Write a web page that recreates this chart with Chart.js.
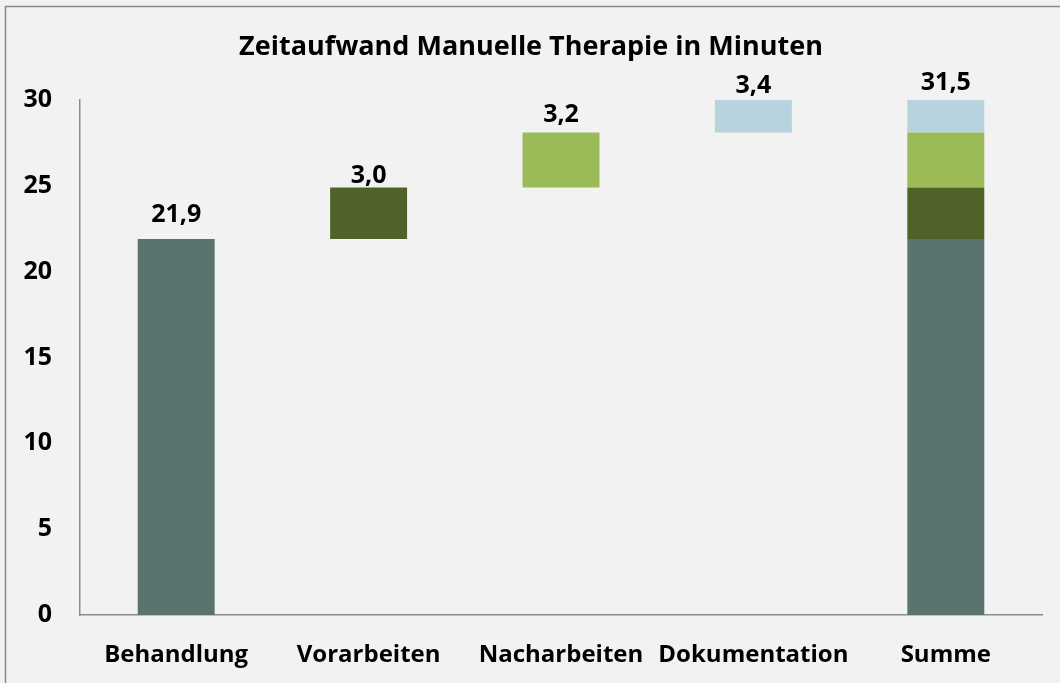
<!DOCTYPE html>
<html>
<head>
<meta charset="utf-8">
<script src="https://cdn.jsdelivr.net/npm/chart.js@4.4.1/dist/chart.umd.min.js"></script>
<style>
  body { margin: 0; background: #f2f2f2; }
  canvas { display: block; }
</style>
</head>
<body>
<canvas id="myChart" width="1060" height="683"></canvas>
<script>
var categories = ['Behandlung', 'Vorarbeiten', 'Nacharbeiten', 'Dokumentation', 'Summe'];
var parts = [21.9, 3.0, 3.2, 3.4];
var partColors = ['#5a736f', '#4f6228', '#9bbb59', '#b7d3de'];
var yTicks = [0, 5, 10, 15, 20, 25, 30];

var total = 0;
var starts = [];
for (var i = 0; i < parts.length; i++) {
	starts.push(total);
	total += parts[i];
}
total = Math.round(total * 10) / 10;
var labelValues = parts.concat([total]);
var sumIndex = categories.length - 1;

// waterfall: each part gets its own column plus a slice of the Summe column
var datasets = parts.map(function(p, i) {
	return {
		label: categories[i],
		data: categories.map(function(c, j) {
			return (j === i || j === sumIndex) ? [starts[i], starts[i] + p] : null;
		}),
		backgroundColor: partColors[i],
		borderWidth: 0,
		clip: 0
	};
});

function fmt(v) {
	return v.toFixed(1).replace('.', ',');
}

var frame = {
	id: 'frame',
	beforeDraw: function(chart) {
		var ctx = chart.ctx;
		ctx.save();
		ctx.fillStyle = '#f2f2f2';
		ctx.fillRect(0, 0, chart.width, chart.height);
		ctx.strokeStyle = '#8c8c8c';
		ctx.lineWidth = 1.5;
		ctx.strokeRect(5.5, 6.5, chart.width + 10, chart.height + 10);
		ctx.restore();
	}
};

var valueLabels = {
	id: 'valueLabels',
	afterDatasetsDraw: function(chart, args, opts) {
		var ctx = chart.ctx;
		var x = chart.scales.x, y = chart.scales.y;
		ctx.save();
		ctx.font = 'bold 25px "Open Sans"';
		ctx.fillStyle = '#000';
		ctx.textAlign = 'center';
		ctx.textBaseline = 'alphabetic';
		for (var j = 0; j < categories.length; j++) {
			var top = j === sumIndex ? total : starts[j] + parts[j];
			var py = Math.max(y.getPixelForValue(top), chart.chartArea.top);
			ctx.fillText(fmt(labelValues[j]), x.getPixelForValue(j), py - opts.gaps[j]);
		}
		ctx.restore();
	}
};

var ctx = document.getElementById('myChart').getContext('2d');
var myChart = new Chart(ctx, {
	type: 'bar',
	data: {
		labels: categories,
		datasets: datasets
	},
	plugins: [frame, valueLabels],
	options: {
		responsive: false,
		animation: false,
		layout: { padding: { left: 20, right: 18, top: 0, bottom: 0 } },
		datasets: {
			bar: { grouped: false, categoryPercentage: 1, barPercentage: 0.4 }
		},
		plugins: {
			legend: { display: false },
			tooltip: { enabled: false },
			title: {
				display: true,
				text: 'Zeitaufwand Manuelle Therapie in Minuten',
				color: '#000',
				font: { family: 'Open Sans', size: 27, weight: 'bold', lineHeight: 1.2 },
				padding: { top: 31, bottom: 36.6 }
			},
			valueLabels: { gaps: [17, 5, 11, 7, 10] }
		},
		scales: {
			x: {
				grid: { display: false, drawTicks: false },
				border: { display: true, color: '#8c8c8c', width: 1.5 },
				ticks: {
					color: '#000',
					padding: 26,
					maxRotation: 0,
					autoSkip: false,
					font: { family: 'Open Sans', size: 24, weight: 'bold' }
				},
				afterFit: function(s) { s.height = 68; }
			},
			y: {
				min: 0,
				max: 30,
				afterBuildTicks: function(s) {
					s.ticks = yTicks.map(function(v) { return { value: v }; });
				},
				grid: { display: false, drawTicks: false },
				border: { display: true, color: '#8c8c8c', width: 1.5 },
				ticks: {
					color: '#000',
					padding: 28,
					font: { family: 'Open Sans', size: 25, weight: 'bold' }
				},
				afterFit: function(s) { s.width = 60; }
			}
		}
	}
});
</script>
</body>
</html>
